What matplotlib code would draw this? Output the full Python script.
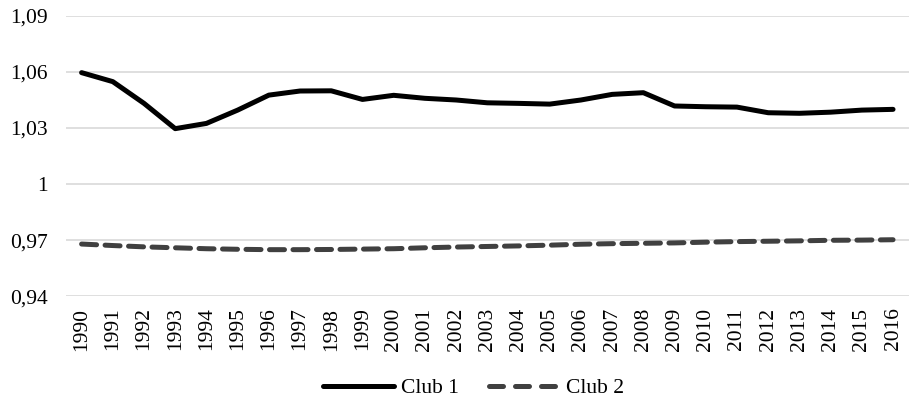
import matplotlib.pyplot as plt

years = list(range(1990, 2017))
club1 = [1.0595, 1.0547, 1.0431, 1.0296, 1.0324, 1.0395, 1.0475, 1.0497, 1.0498,
         1.0452, 1.0474, 1.0458, 1.0449, 1.0434, 1.0431, 1.0427, 1.0449, 1.0479,
         1.0488, 1.0417, 1.0413, 1.0411, 1.0381, 1.0378, 1.0384, 1.0395, 1.0399]
club2 = [0.9680, 0.9672, 0.9665, 0.9660, 0.9655, 0.9652, 0.9650, 0.9650, 0.9651,
         0.9653, 0.9655, 0.9660, 0.9664, 0.9667, 0.9670, 0.9674, 0.9679, 0.9682,
         0.9684, 0.9686, 0.9690, 0.9693, 0.9695, 0.9697, 0.9700, 0.9701, 0.9703]
yticks = [0.94, 0.97, 1.00, 1.03, 1.06, 1.09]
ylabels = ['0,94', '0,97', '1', '1,03', '1,06', '1,09']

plt.rcParams['font.family'] = ['Liberation Serif', 'DejaVu Serif']
fs = 15.5

fig = plt.figure(figsize=(9.09, 4.03), dpi=100)
ax = fig.add_axes([0.0726, 0.2643, 0.927, 0.6972])

x = range(len(years))
ax.plot(x, club1, color='black', linewidth=3.6, solid_capstyle='round',
        solid_joinstyle='round', label='Club 1', zorder=3)
ax.plot(x, club2, color='#404040', linewidth=3.6, dashes=(3, 1.7),
        dash_capstyle='round', label='Club 2', zorder=3)

ax.set_xlim(-0.5, len(years) - 0.5)
ax.set_ylim(0.94, 1.09)
ax.set_yticks(yticks)
ax.set_yticklabels(ylabels, fontsize=fs)
ax.set_xticks(list(x))
ax.set_xticklabels([str(y) for y in years], rotation=90, fontsize=fs)
ax.tick_params(axis='both', length=0)
ax.tick_params(axis='y', pad=13)
ax.tick_params(axis='x', pad=8)
ax.grid(axis='y', color='#d9d9d9', linewidth=1.2, zorder=0)
for s in ax.spines.values():
    s.set_visible(False)

leg = fig.legend(loc='center', bbox_to_anchor=(0.521, 0.037), ncol=2, frameon=False,
                 fontsize=fs, handlelength=3.3, handletextpad=0.3, columnspacing=1.4)
# legend sample: three dashes with a gap before the text, like the original
leg.get_lines()[1].set_dashes((2.8, 2.4))

fig.savefig('out.png', dpi=100)
